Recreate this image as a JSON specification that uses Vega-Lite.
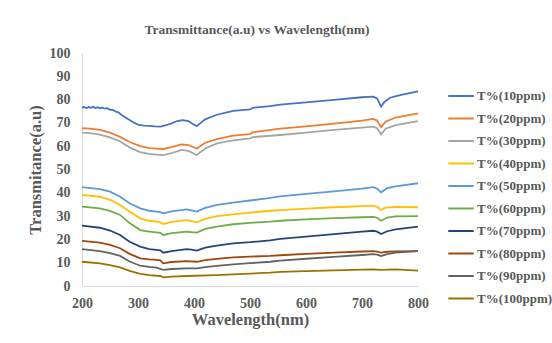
{
  "$schema": "https://vega.github.io/schema/vega-lite/v6.json",
  "width": 336,
  "height": 233,
  "autosize": {"type": "none"},
  "padding": {"left": 82, "top": 53, "right": 134, "bottom": 57},
  "background": "white",
  "title": {"text": "Transmittance(a.u)  vs Wavelength(nm)", "font": "Liberation Serif", "fontSize": 13.5, "fontWeight": "bold", "color": "#595959", "anchor": "middle", "offset": 10, "dx": 7},
  "data": {"values": [
    {"s":"T%(10ppm)","x":200,"y":76.5},{"s":"T%(10ppm)","x":204,"y":76.8},{"s":"T%(10ppm)","x":208,"y":76.4},{"s":"T%(10ppm)","x":212,"y":76.8},{"s":"T%(10ppm)","x":216,"y":76.5},{"s":"T%(10ppm)","x":220,"y":76.9},{"s":"T%(10ppm)","x":224,"y":76.4},{"s":"T%(10ppm)","x":228,"y":76.7},{"s":"T%(10ppm)","x":232,"y":76.3},{"s":"T%(10ppm)","x":236,"y":76.6},{"s":"T%(10ppm)","x":240,"y":76.1},{"s":"T%(10ppm)","x":245,"y":76.3},{"s":"T%(10ppm)","x":250,"y":75.6},{"s":"T%(10ppm)","x":255,"y":75.6},{"s":"T%(10ppm)","x":260,"y":74.9},{"s":"T%(10ppm)","x":265,"y":74.5},{"s":"T%(10ppm)","x":270,"y":73.5},{"s":"T%(10ppm)","x":280,"y":72},{"s":"T%(10ppm)","x":290,"y":70.5},{"s":"T%(10ppm)","x":300,"y":69.3},{"s":"T%(10ppm)","x":310,"y":68.8},{"s":"T%(10ppm)","x":320,"y":68.7},{"s":"T%(10ppm)","x":330,"y":68.5},{"s":"T%(10ppm)","x":340,"y":68.4},{"s":"T%(10ppm)","x":350,"y":69},{"s":"T%(10ppm)","x":360,"y":69.8},{"s":"T%(10ppm)","x":370,"y":70.8},{"s":"T%(10ppm)","x":380,"y":71.2},{"s":"T%(10ppm)","x":390,"y":70.8},{"s":"T%(10ppm)","x":398,"y":69.5},{"s":"T%(10ppm)","x":405,"y":68.6},{"s":"T%(10ppm)","x":412,"y":70},{"s":"T%(10ppm)","x":420,"y":71.5},{"s":"T%(10ppm)","x":441,"y":73.5},{"s":"T%(10ppm)","x":470,"y":75.2},{"s":"T%(10ppm)","x":500,"y":75.8},{"s":"T%(10ppm)","x":505,"y":76.5},{"s":"T%(10ppm)","x":536,"y":77.2},{"s":"T%(10ppm)","x":554,"y":77.8},{"s":"T%(10ppm)","x":600,"y":78.8},{"s":"T%(10ppm)","x":650,"y":79.9},{"s":"T%(10ppm)","x":700,"y":81},{"s":"T%(10ppm)","x":720,"y":81.3},{"s":"T%(10ppm)","x":727,"y":80.5},{"s":"T%(10ppm)","x":734,"y":77},{"s":"T%(10ppm)","x":740,"y":79},{"s":"T%(10ppm)","x":750,"y":80.8},{"s":"T%(10ppm)","x":770,"y":82},{"s":"T%(10ppm)","x":800,"y":83.5},

    {"s":"T%(20ppm)","x":200,"y":67.7},{"s":"T%(20ppm)","x":214,"y":67.5},{"s":"T%(20ppm)","x":232,"y":67},{"s":"T%(20ppm)","x":250,"y":65.8},{"s":"T%(20ppm)","x":268,"y":64},{"s":"T%(20ppm)","x":285,"y":61.8},{"s":"T%(20ppm)","x":304,"y":60},{"s":"T%(20ppm)","x":320,"y":59.2},{"s":"T%(20ppm)","x":333,"y":59},{"s":"T%(20ppm)","x":345,"y":58.8},{"s":"T%(20ppm)","x":360,"y":59.6},{"s":"T%(20ppm)","x":378,"y":60.8},{"s":"T%(20ppm)","x":390,"y":60.5},{"s":"T%(20ppm)","x":405,"y":59},{"s":"T%(20ppm)","x":420,"y":61.5},{"s":"T%(20ppm)","x":441,"y":63},{"s":"T%(20ppm)","x":470,"y":64.5},{"s":"T%(20ppm)","x":500,"y":65.2},{"s":"T%(20ppm)","x":505,"y":66},{"s":"T%(20ppm)","x":554,"y":67.5},{"s":"T%(20ppm)","x":600,"y":68.5},{"s":"T%(20ppm)","x":650,"y":69.7},{"s":"T%(20ppm)","x":700,"y":71},{"s":"T%(20ppm)","x":720,"y":71.7},{"s":"T%(20ppm)","x":727,"y":71},{"s":"T%(20ppm)","x":734,"y":68.2},{"s":"T%(20ppm)","x":742,"y":70.5},{"s":"T%(20ppm)","x":760,"y":72.3},{"s":"T%(20ppm)","x":800,"y":74.1},

    {"s":"T%(30ppm)","x":200,"y":65.8},{"s":"T%(30ppm)","x":214,"y":65.6},{"s":"T%(30ppm)","x":232,"y":65},{"s":"T%(30ppm)","x":250,"y":63.8},{"s":"T%(30ppm)","x":268,"y":62},{"s":"T%(30ppm)","x":285,"y":59.5},{"s":"T%(30ppm)","x":304,"y":57.5},{"s":"T%(30ppm)","x":320,"y":56.7},{"s":"T%(30ppm)","x":333,"y":56.4},{"s":"T%(30ppm)","x":345,"y":56.2},{"s":"T%(30ppm)","x":360,"y":57},{"s":"T%(30ppm)","x":378,"y":58.4},{"s":"T%(30ppm)","x":390,"y":58},{"s":"T%(30ppm)","x":405,"y":56.2},{"s":"T%(30ppm)","x":420,"y":59},{"s":"T%(30ppm)","x":441,"y":61.2},{"s":"T%(30ppm)","x":470,"y":62.5},{"s":"T%(30ppm)","x":500,"y":63.4},{"s":"T%(30ppm)","x":505,"y":63.9},{"s":"T%(30ppm)","x":554,"y":64.8},{"s":"T%(30ppm)","x":600,"y":65.8},{"s":"T%(30ppm)","x":650,"y":67},{"s":"T%(30ppm)","x":700,"y":68},{"s":"T%(30ppm)","x":720,"y":68.4},{"s":"T%(30ppm)","x":727,"y":67.7},{"s":"T%(30ppm)","x":734,"y":65.1},{"s":"T%(30ppm)","x":742,"y":67.5},{"s":"T%(30ppm)","x":760,"y":69},{"s":"T%(30ppm)","x":800,"y":70.8},

    {"s":"T%(40ppm)","x":200,"y":39.1},{"s":"T%(40ppm)","x":232,"y":38.3},{"s":"T%(40ppm)","x":250,"y":37},{"s":"T%(40ppm)","x":268,"y":34.8},{"s":"T%(40ppm)","x":285,"y":32},{"s":"T%(40ppm)","x":304,"y":29},{"s":"T%(40ppm)","x":320,"y":28},{"s":"T%(40ppm)","x":333,"y":27.6},{"s":"T%(40ppm)","x":340,"y":27.3},{"s":"T%(40ppm)","x":345,"y":26.6},{"s":"T%(40ppm)","x":360,"y":27.5},{"s":"T%(40ppm)","x":387,"y":28.3},{"s":"T%(40ppm)","x":395,"y":27.8},{"s":"T%(40ppm)","x":405,"y":27.3},{"s":"T%(40ppm)","x":420,"y":28.8},{"s":"T%(40ppm)","x":441,"y":30},{"s":"T%(40ppm)","x":470,"y":30.7},{"s":"T%(40ppm)","x":500,"y":31.5},{"s":"T%(40ppm)","x":536,"y":32.3},{"s":"T%(40ppm)","x":554,"y":32.6},{"s":"T%(40ppm)","x":600,"y":33.2},{"s":"T%(40ppm)","x":650,"y":33.8},{"s":"T%(40ppm)","x":700,"y":34.3},{"s":"T%(40ppm)","x":720,"y":34.5},{"s":"T%(40ppm)","x":727,"y":34},{"s":"T%(40ppm)","x":734,"y":32.6},{"s":"T%(40ppm)","x":742,"y":33.6},{"s":"T%(40ppm)","x":760,"y":34},{"s":"T%(40ppm)","x":800,"y":33.8},

    {"s":"T%(50ppm)","x":200,"y":42.4},{"s":"T%(50ppm)","x":232,"y":41.6},{"s":"T%(50ppm)","x":250,"y":40.5},{"s":"T%(50ppm)","x":268,"y":38.3},{"s":"T%(50ppm)","x":285,"y":35.5},{"s":"T%(50ppm)","x":304,"y":33.3},{"s":"T%(50ppm)","x":320,"y":32.3},{"s":"T%(50ppm)","x":333,"y":31.9},{"s":"T%(50ppm)","x":340,"y":31.7},{"s":"T%(50ppm)","x":345,"y":31.2},{"s":"T%(50ppm)","x":360,"y":32},{"s":"T%(50ppm)","x":387,"y":32.9},{"s":"T%(50ppm)","x":395,"y":32.5},{"s":"T%(50ppm)","x":405,"y":31.9},{"s":"T%(50ppm)","x":420,"y":33.5},{"s":"T%(50ppm)","x":441,"y":34.8},{"s":"T%(50ppm)","x":470,"y":35.8},{"s":"T%(50ppm)","x":500,"y":36.7},{"s":"T%(50ppm)","x":530,"y":37.6},{"s":"T%(50ppm)","x":554,"y":38.5},{"s":"T%(50ppm)","x":600,"y":39.5},{"s":"T%(50ppm)","x":650,"y":40.6},{"s":"T%(50ppm)","x":700,"y":41.8},{"s":"T%(50ppm)","x":720,"y":42.4},{"s":"T%(50ppm)","x":727,"y":41.8},{"s":"T%(50ppm)","x":734,"y":40.2},{"s":"T%(50ppm)","x":745,"y":42},{"s":"T%(50ppm)","x":760,"y":42.8},{"s":"T%(50ppm)","x":800,"y":44.1},

    {"s":"T%(60ppm)","x":200,"y":34.1},{"s":"T%(60ppm)","x":232,"y":33.3},{"s":"T%(60ppm)","x":250,"y":32.2},{"s":"T%(60ppm)","x":268,"y":30.5},{"s":"T%(60ppm)","x":285,"y":27},{"s":"T%(60ppm)","x":304,"y":24},{"s":"T%(60ppm)","x":320,"y":23.3},{"s":"T%(60ppm)","x":333,"y":23},{"s":"T%(60ppm)","x":340,"y":22.8},{"s":"T%(60ppm)","x":345,"y":21.9},{"s":"T%(60ppm)","x":360,"y":22.7},{"s":"T%(60ppm)","x":387,"y":23.3},{"s":"T%(60ppm)","x":395,"y":23.1},{"s":"T%(60ppm)","x":405,"y":22.9},{"s":"T%(60ppm)","x":420,"y":24.5},{"s":"T%(60ppm)","x":441,"y":25.5},{"s":"T%(60ppm)","x":470,"y":26.5},{"s":"T%(60ppm)","x":500,"y":27.1},{"s":"T%(60ppm)","x":536,"y":27.6},{"s":"T%(60ppm)","x":554,"y":28},{"s":"T%(60ppm)","x":600,"y":28.6},{"s":"T%(60ppm)","x":650,"y":29.1},{"s":"T%(60ppm)","x":700,"y":29.5},{"s":"T%(60ppm)","x":720,"y":29.7},{"s":"T%(60ppm)","x":727,"y":29.3},{"s":"T%(60ppm)","x":734,"y":28},{"s":"T%(60ppm)","x":745,"y":29.4},{"s":"T%(60ppm)","x":760,"y":29.9},{"s":"T%(60ppm)","x":800,"y":30},

    {"s":"T%(70ppm)","x":200,"y":25.9},{"s":"T%(70ppm)","x":232,"y":25},{"s":"T%(70ppm)","x":250,"y":23.8},{"s":"T%(70ppm)","x":268,"y":21.9},{"s":"T%(70ppm)","x":285,"y":19},{"s":"T%(70ppm)","x":304,"y":16.9},{"s":"T%(70ppm)","x":320,"y":15.8},{"s":"T%(70ppm)","x":333,"y":15.5},{"s":"T%(70ppm)","x":340,"y":15.3},{"s":"T%(70ppm)","x":345,"y":14.3},{"s":"T%(70ppm)","x":360,"y":15},{"s":"T%(70ppm)","x":387,"y":15.8},{"s":"T%(70ppm)","x":395,"y":15.6},{"s":"T%(70ppm)","x":405,"y":15.2},{"s":"T%(70ppm)","x":420,"y":16.5},{"s":"T%(70ppm)","x":441,"y":17.3},{"s":"T%(70ppm)","x":470,"y":18.3},{"s":"T%(70ppm)","x":500,"y":18.8},{"s":"T%(70ppm)","x":536,"y":19.6},{"s":"T%(70ppm)","x":554,"y":20.2},{"s":"T%(70ppm)","x":600,"y":21.2},{"s":"T%(70ppm)","x":650,"y":22.3},{"s":"T%(70ppm)","x":700,"y":23.3},{"s":"T%(70ppm)","x":720,"y":23.7},{"s":"T%(70ppm)","x":727,"y":23.3},{"s":"T%(70ppm)","x":734,"y":22.3},{"s":"T%(70ppm)","x":745,"y":23.5},{"s":"T%(70ppm)","x":760,"y":24.3},{"s":"T%(70ppm)","x":800,"y":25.5},

    {"s":"T%(80ppm)","x":200,"y":19.4},{"s":"T%(80ppm)","x":232,"y":18.6},{"s":"T%(80ppm)","x":250,"y":17.6},{"s":"T%(80ppm)","x":268,"y":16.2},{"s":"T%(80ppm)","x":285,"y":13.8},{"s":"T%(80ppm)","x":304,"y":11.9},{"s":"T%(80ppm)","x":320,"y":11.4},{"s":"T%(80ppm)","x":333,"y":11.2},{"s":"T%(80ppm)","x":340,"y":11},{"s":"T%(80ppm)","x":345,"y":9.7},{"s":"T%(80ppm)","x":360,"y":10.3},{"s":"T%(80ppm)","x":387,"y":10.7},{"s":"T%(80ppm)","x":405,"y":10.4},{"s":"T%(80ppm)","x":420,"y":11.1},{"s":"T%(80ppm)","x":441,"y":11.6},{"s":"T%(80ppm)","x":470,"y":12.3},{"s":"T%(80ppm)","x":500,"y":12.6},{"s":"T%(80ppm)","x":536,"y":12.9},{"s":"T%(80ppm)","x":554,"y":13.2},{"s":"T%(80ppm)","x":600,"y":13.8},{"s":"T%(80ppm)","x":650,"y":14.3},{"s":"T%(80ppm)","x":700,"y":14.8},{"s":"T%(80ppm)","x":720,"y":15},{"s":"T%(80ppm)","x":727,"y":14.8},{"s":"T%(80ppm)","x":734,"y":14.3},{"s":"T%(80ppm)","x":745,"y":14.7},{"s":"T%(80ppm)","x":760,"y":14.9},{"s":"T%(80ppm)","x":800,"y":15},

    {"s":"T%(90ppm)","x":200,"y":15.8},{"s":"T%(90ppm)","x":232,"y":15},{"s":"T%(90ppm)","x":250,"y":14.1},{"s":"T%(90ppm)","x":268,"y":12.9},{"s":"T%(90ppm)","x":285,"y":10.5},{"s":"T%(90ppm)","x":304,"y":8.7},{"s":"T%(90ppm)","x":320,"y":8.2},{"s":"T%(90ppm)","x":333,"y":7.9},{"s":"T%(90ppm)","x":345,"y":6.9},{"s":"T%(90ppm)","x":360,"y":7.3},{"s":"T%(90ppm)","x":387,"y":7.6},{"s":"T%(90ppm)","x":405,"y":7.6},{"s":"T%(90ppm)","x":420,"y":8.1},{"s":"T%(90ppm)","x":441,"y":8.6},{"s":"T%(90ppm)","x":470,"y":9.3},{"s":"T%(90ppm)","x":500,"y":9.8},{"s":"T%(90ppm)","x":536,"y":10.4},{"s":"T%(90ppm)","x":554,"y":10.9},{"s":"T%(90ppm)","x":600,"y":11.7},{"s":"T%(90ppm)","x":650,"y":12.5},{"s":"T%(90ppm)","x":700,"y":13.3},{"s":"T%(90ppm)","x":720,"y":13.7},{"s":"T%(90ppm)","x":727,"y":13.5},{"s":"T%(90ppm)","x":734,"y":12.9},{"s":"T%(90ppm)","x":745,"y":13.7},{"s":"T%(90ppm)","x":760,"y":14.3},{"s":"T%(90ppm)","x":800,"y":15},

    {"s":"T%(100ppm)","x":200,"y":10.4},{"s":"T%(100ppm)","x":232,"y":9.7},{"s":"T%(100ppm)","x":250,"y":9},{"s":"T%(100ppm)","x":268,"y":8},{"s":"T%(100ppm)","x":285,"y":6.5},{"s":"T%(100ppm)","x":304,"y":5.2},{"s":"T%(100ppm)","x":320,"y":4.7},{"s":"T%(100ppm)","x":333,"y":4.4},{"s":"T%(100ppm)","x":340,"y":4.3},{"s":"T%(100ppm)","x":345,"y":3.7},{"s":"T%(100ppm)","x":360,"y":4},{"s":"T%(100ppm)","x":387,"y":4.3},{"s":"T%(100ppm)","x":441,"y":4.7},{"s":"T%(100ppm)","x":470,"y":5},{"s":"T%(100ppm)","x":500,"y":5.3},{"s":"T%(100ppm)","x":536,"y":5.7},{"s":"T%(100ppm)","x":554,"y":6.1},{"s":"T%(100ppm)","x":600,"y":6.4},{"s":"T%(100ppm)","x":650,"y":6.7},{"s":"T%(100ppm)","x":700,"y":7},{"s":"T%(100ppm)","x":720,"y":7.1},{"s":"T%(100ppm)","x":734,"y":6.9},{"s":"T%(100ppm)","x":760,"y":7.1},{"s":"T%(100ppm)","x":800,"y":6.6}
  ]},
  "mark": {"type": "line", "strokeWidth": 1.8},
  "encoding": {
    "x": {"field": "x", "type": "quantitative",
      "scale": {"domain": [200, 800], "nice": false},
      "axis": {"values": [200, 300, 400, 500, 600, 700, 800], "title": "Wavelength(nm)", "grid": false, "ticks": false, "labelFlush": false, "domainColor": "#D9D9D9", "labelFont": "Liberation Serif", "labelFontSize": 14, "labelFontWeight": "bold", "labelColor": "#595959", "labelPadding": 10, "titleFont": "Liberation Serif", "titleFontSize": 16.5, "titleFontWeight": "bold", "titleColor": "#595959", "titlePadding": 1}},
    "y": {"field": "y", "type": "quantitative",
      "scale": {"domain": [0, 100], "nice": false},
      "axis": {"values": [0, 10, 20, 30, 40, 50, 60, 70, 80, 90, 100], "title": "Transmitance(a.u)", "grid": false, "ticks": false, "domainColor": "#D9D9D9", "labelFont": "Liberation Serif", "labelFontSize": 14, "labelFontWeight": "bold", "labelColor": "#595959", "labelPadding": 12, "titleFont": "Liberation Serif", "titleFontSize": 16.5, "titleFontWeight": "bold", "titleColor": "#595959", "titlePadding": 6}},
    "color": {"field": "s", "type": "nominal",
      "scale": {"domain": ["T%(10ppm)", "T%(20ppm)", "T%(30ppm)", "T%(40ppm)", "T%(50ppm)", "T%(60ppm)", "T%(70ppm)", "T%(80ppm)", "T%(90ppm)", "T%(100ppm)"],
        "range": ["#4472C4", "#ED7D31", "#A5A5A5", "#FFC000", "#5B9BD5", "#70AD47", "#264478", "#9E480E", "#636363", "#997300"]},
      "legend": {"title": null, "orient": "none", "legendX": 365, "legendY": 29, "symbolType": "stroke", "symbolSize": 650, "symbolStrokeWidth": 2, "labelFont": "Liberation Serif", "labelFontSize": 13, "labelFontWeight": "bold", "labelColor": "#595959", "labelOffset": 2, "rowPadding": 1.5, "labelLimit": 200}}
  },
  "config": {"view": {"stroke": null}}
}
